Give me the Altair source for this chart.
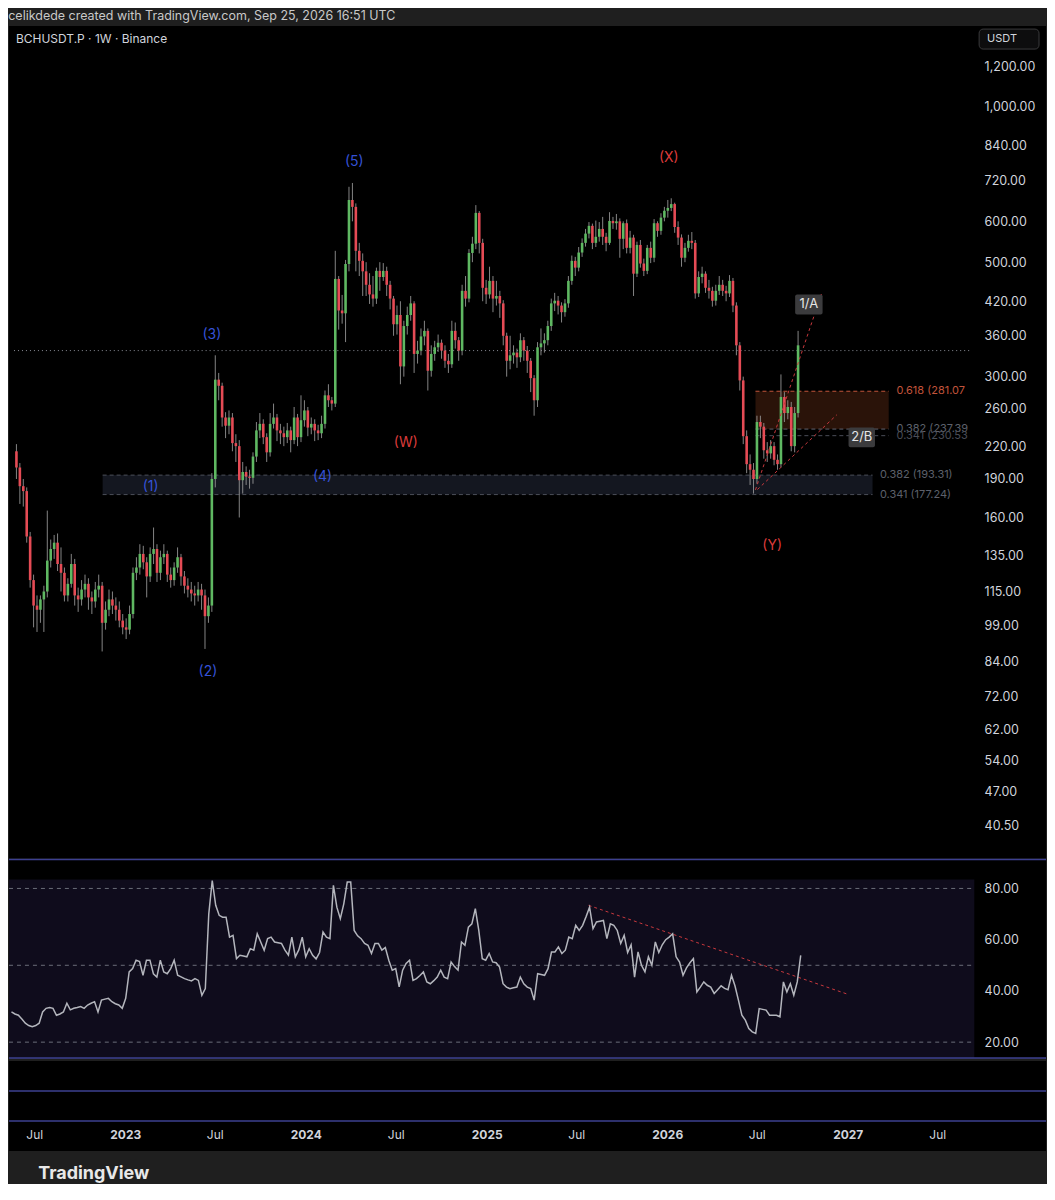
import altair as alt
import pandas as pd

# ---------------- data ----------------
first_open = 215
first_week = "2022-05-16"

closes = [
    200, 184, 180, 147, 121, 108, 106, 111, 115, 132,
    139, 143, 130, 125, 113, 119, 130, 113, 111, 116,
    119, 112, 110, 116, 118, 100, 106, 111, 108, 106,
    101, 98, 97, 104, 125, 128, 136, 131, 123, 136,
    139, 125, 134, 136, 124, 121, 128, 134, 123, 118,
    116, 114, 113, 116, 113, 103, 108, 190, 296, 288,
    250, 241, 250, 223, 220, 189, 196, 192, 191, 210,
    236, 243, 229, 214, 243, 250, 236, 233, 229, 236,
    226, 250, 229, 247, 258, 239, 243, 236, 233, 243,
    276, 270, 266, 464, 403, 398, 496, 660, 640, 526,
    503, 480, 452, 433, 425, 481, 468, 481, 452, 425,
    379, 395, 314, 376, 395, 416, 332, 337, 359, 368,
    308, 332, 342, 349, 337, 322, 317, 368, 353, 337,
    440, 425, 521, 543, 623, 545, 446, 433, 460, 425,
    430, 416, 360, 322, 330, 334, 327, 353, 337, 322,
    298, 270, 342, 348, 353, 376, 416, 421, 412, 400,
    416, 460, 503, 488, 522, 545, 568, 588, 545, 560,
    580, 560, 545, 601, 595, 600, 555, 595, 533, 558,
    475, 540, 497, 481, 533, 510, 595, 575, 610, 629,
    637, 648, 585, 558, 510, 533, 550, 545, 435, 468,
    475, 446, 440, 421, 440, 452, 440, 435, 460, 412,
    345, 295, 230, 203, 198, 190, 245, 240, 216, 213,
    220, 207, 203, 274, 255, 262, 220, 255, 345,
]
highs = [
    222, 204, 190, 183, 150, 124, 113, 113, 118, 165,
    145, 148, 149, 140, 128, 122, 136, 133, 117, 121,
    124, 122, 115, 120, 124, 120, 110, 116, 115, 112,
    110, 104, 102, 108, 128, 134, 142, 141, 134, 140,
    153, 142, 138, 142, 138, 128, 131, 140, 136, 126,
    122, 120, 118, 120, 119, 116, 112, 195, 330, 305,
    292, 256, 258, 255, 232, 226, 205, 201, 198, 214,
    245, 255, 248, 233, 255, 266, 254, 243, 240, 244,
    240, 262, 254, 276, 270, 262, 250, 248, 242, 252,
    282, 290, 274, 526, 470, 432, 505, 700, 712, 650,
    545, 520, 500, 476, 470, 488, 500, 498, 490, 460,
    430, 412, 420, 385, 410, 430, 420, 352, 372, 385,
    372, 345, 352, 362, 354, 345, 332, 385, 382, 358,
    452, 470, 530, 560, 645, 628, 555, 462, 490, 470,
    460, 440, 422, 365, 360, 345, 340, 364, 358, 344,
    326, 302, 350, 372, 364, 385, 425, 436, 430, 418,
    424, 470, 515, 512, 535, 556, 580, 598, 594, 602,
    598, 612, 570, 625, 612, 620, 608, 600, 605, 575,
    565, 548, 552, 508, 540, 548, 606, 600, 622, 640,
    660, 665, 652, 600, 566, 545, 565, 572, 552, 480,
    490, 480, 462, 448, 452, 470, 462, 450, 472, 466,
    418, 350, 300, 236, 212, 204, 252, 252, 244, 224,
    226, 224, 212, 303, 280, 270, 268, 262, 368,
]
lows = [
    190, 170, 168, 143, 117, 98, 96, 100, 96, 112,
    128, 133, 126, 115, 110, 110, 117, 108, 105, 108,
    112, 106, 104, 107, 112, 88, 97, 103, 104, 101,
    98, 95, 93, 95, 102, 121, 124, 127, 112, 120,
    130, 120, 121, 130, 120, 117, 118, 125, 118, 114,
    112, 110, 108, 110, 106, 89, 100, 105, 183, 270,
    240, 228, 232, 215, 205, 160, 178, 185, 182, 186,
    205, 228, 222, 205, 210, 238, 225, 222, 220, 223,
    214, 222, 220, 224, 240, 230, 232, 225, 226, 228,
    238, 262, 258, 262, 370, 380, 350, 480, 600, 480,
    470, 430, 430, 415, 410, 415, 440, 460, 430, 405,
    360, 362, 290, 300, 362, 385, 305, 318, 330, 345,
    282, 300, 322, 335, 325, 312, 305, 312, 340, 322,
    330, 410, 418, 500, 530, 520, 420, 415, 425, 400,
    412, 390, 345, 300, 310, 318, 312, 320, 322, 305,
    280, 252, 262, 330, 334, 345, 368, 402, 396, 382,
    392, 408, 452, 470, 480, 512, 536, 556, 530, 535,
    548, 540, 525, 540, 580, 578, 510, 530, 520, 520,
    430, 468, 488, 470, 474, 498, 500, 560, 565, 600,
    610, 628, 570, 540, 490, 500, 524, 530, 425, 428,
    455, 436, 425, 410, 412, 432, 430, 420, 428, 400,
    330, 282, 222, 195, 185, 178, 186, 228, 208, 205,
    208, 202, 198, 200, 245, 248, 215, 214, 250,
]
rsi = [
    31.8, 31, 30.5, 29, 27.4, 26.5, 26, 26.5, 27.4, 31.8,
    33.2, 33.5, 33.2, 30.5, 31, 31.8, 35.2, 32.6, 33.2, 33.5,
    33.9, 33.2, 34.5, 35.2, 35.8, 31.8, 36.4, 36.8, 37.1, 35.8,
    35, 34.5, 33.2, 37.1, 47.4, 48.7, 52, 51.5, 46.1, 52,
    52, 46.7, 45.4, 52, 47.4, 46.7, 48.7, 52, 46.1, 45.5,
    44.8, 44.3, 43.9, 44.8, 44.1, 38.3, 40.9, 70.1, 83.1, 73.4,
    69.5, 68.8, 68.8, 61, 61.7, 52.6, 53.9, 53.6, 53.3, 56.5,
    55.9, 62.3, 59.1, 55.9, 60.4, 61, 59.1, 58.8, 58.5, 55.9,
    54, 61, 53.3, 56, 61, 53.3, 56.5, 53.9, 52.5, 55,
    63, 61, 60.4, 81.2, 72.7, 68.2, 74, 82.5, 82.5, 63.6,
    61.5, 60.4, 58.5, 57.8, 54.6, 58.5, 58.5, 55.9, 56.9, 52,
    48.1, 48.7, 41.6, 48.1, 50.7, 52, 44.1, 44.8, 46, 47.4,
    43.5, 42.8, 44, 45.4, 48.1, 45.4, 44.8, 51.3, 49.5, 48.1,
    59.1, 57.8, 64.9, 66.2, 72.1, 63.6, 52.6, 52, 54.6, 51.3,
    51, 49.3, 42.8, 41.5, 40.9, 41.2, 41.5, 45.4, 42.8, 41.5,
    40.9, 36.4, 46.7, 46.4, 46.1, 48.7, 55.2, 55.2, 57.2, 54.6,
    55.9, 61, 60.4, 65.6, 63.6, 65.6, 69, 72.7, 64.3, 66.9,
    67.2, 67.5, 60.4, 66.2, 65.6, 63.6, 58.5, 61.7, 55, 58,
    45.4, 55.2, 50, 47.4, 53.3, 50, 59.1, 55, 58, 60,
    61, 62.3, 53.3, 51.3, 46.1, 49, 51, 52.6, 39.6, 41.5,
    43.5, 42.2, 41.5, 39, 40.5, 42, 41, 40.5, 46.1, 42,
    36.4, 30.5, 28.6, 25.3, 24, 23.4, 33.1, 32.8, 32.5, 30.5,
    30.5, 30.5, 29.9, 43.5, 39.6, 42.8, 38.3, 43.5, 53.9,
]
assert len(closes) == len(highs) == len(lows) == len(rsi)

price_ticks = [1200, 1000, 840, 720, 600, 500, 420, 360, 300, 260, 220,
               190, 160, 135, 115, 99, 84, 72, 62, 54, 47, 40.5]
rsi_ticks = [20, 40, 60, 80]
rsi_bands = [80, 50, 20]
last_price = 337

wave_text = ["(1)", "(2)", "(3)", "(4)", "(5)", "(W)", "(X)", "(Y)"]
wave_date = ["2023-02-14", "2023-06-11", "2023-06-19", "2024-01-31",
             "2024-04-05", "2024-07-19", "2026-01-07", "2026-08-06"]
wave_price = [183, 80.3, 362, 192, 782, 223, 796, 141]
wave_color = ["#3552d6"] * 5 + ["#dc3b3b"] * 3

tag_text = ["1/A", "2/B"]
tag_date = ["2026-10-20", "2027-02-05"]
tag_price = [414, 229]
tag_start = ["2026-09-22", "2027-01-09"]
tag_end = ["2026-11-17", "2027-03-04"]
tag_top = [433, 239.2]
tag_bottom = [396, 218.8]

fib_low_levels = [193.31, 177.24]
fib_low_text = ["0.382 (193.31)", "0.341 (177.24)"]
fib_low_start, fib_low_end, fib_low_label_date = "2022-11-08", "2027-02-27", "2027-03-14"

fib_up_levels = [281.07, 237.39, 230.53]
fib_up_text = ["0.618 (281.07", "0.382 (237.39", "0.341 (230.53"]
fib_up_color = ["#c2543b", "#5d606b", "#4a4d57"]
fib_up_start, fib_up_end, fib_up_label_date = "2026-07-03", "2027-04-01", "2027-04-17"

chan_start = ["2026-07-03", "2026-07-07"]
chan_end = ["2026-11-15", "2026-12-16"]
chan_p1 = [181, 181.3]
chan_p2 = [435, 253]

rsi_trend_start, rsi_trend_end = "2025-07-26", "2027-01-01"
rsi_trend_v1, rsi_trend_v2 = 73.4, 38.7

x_start, x_end, plot_end = "2022-05-11", "2028-02-06", "2027-09-14"
price_lo, price_hi = 34.93, 1434
rsi_lo, rsi_hi = 13.77, 91.3

time_ticks = ["2022-07-01", "2023-01-01", "2023-07-01", "2024-01-01", "2024-07-01",
              "2025-01-01", "2025-07-01", "2026-01-01", "2026-07-01", "2027-01-01", "2027-07-01"]

# ---------------- styling ----------------
FONT = "Inter"
GREEN, RED, WICK = "#5fb862", "#e54b55", "#9c9c9c"
SEP = "#3d4090"
TXT = "#d1d4dc"
W = 1039


def ts(d):
    return d + "T00:00:00"


def dt(d):
    y, m, dd = d.split("-")
    return alt.DateTime(year=int(y), month=int(m), date=int(dd))


xscale = alt.Scale(domain=[dt(x_start), dt(x_end)])
price_scale = alt.Scale(type="log", domain=[price_lo, price_hi], nice=False, zero=False)
price_axis = alt.Axis(orient="right", values=price_ticks, format=",.2f", offset=-72,
                      labelPadding=10, domain=False, ticks=False, grid=False, title=None,
                      labelColor=TXT, labelFontSize=12.5, labelFont=FONT,
                      labelFlush=False, labelOverlap=False)
rsi_scale = alt.Scale(domain=[rsi_lo, rsi_hi], nice=False, zero=False)
rsi_axis = alt.Axis(orient="right", values=rsi_ticks, format=".2f", offset=-72,
                    labelPadding=10, domain=False, ticks=False, grid=False, title=None,
                    labelColor=TXT, labelFontSize=12.5, labelFont=FONT,
                    labelFlush=False, labelOverlap=False)


def X(f):
    return alt.X(f, type="temporal", scale=xscale, axis=None)


def YP(f):
    return alt.Y(f, type="quantitative", scale=price_scale, axis=price_axis)


def YR(f):
    return alt.Y(f, type="quantitative", scale=rsi_scale, axis=rsi_axis)


dates = [d.strftime("%Y-%m-%dT00:00:00") for d in pd.date_range(first_week, periods=len(closes), freq="7D")]
opens = [first_open] + closes[:-1]
candles = pd.DataFrame({"date": dates, "open": opens, "high": highs, "low": lows, "close": closes})
candles["c"] = [GREEN if c >= o else RED for o, c in zip(opens, closes)]

# ---------------- price pane ----------------
low_band = alt.Chart(pd.DataFrame({"s": [ts(fib_low_start)], "e": [ts(fib_low_end)],
                                   "a": [fib_low_levels[0]], "b": [fib_low_levels[1]]})
                     ).mark_rect(color="#161a24", opacity=0.9).encode(x=X("s"), x2="e", y=YP("a"), y2="b")
low_lines = alt.Chart(pd.DataFrame({"s": ts(fib_low_start), "e": ts(fib_low_end), "lvl": fib_low_levels})
                      ).mark_rule(color="#4b4e58", strokeDash=[4, 3], strokeWidth=1).encode(
    x=X("s"), x2="e", y=YP("lvl"))
low_labels = alt.Chart(pd.DataFrame({"d": ts(fib_low_label_date), "lvl": fib_low_levels, "t": fib_low_text})
                       ).mark_text(align="left", baseline="middle", fontSize=11, color="#5d606b", font=FONT
                                   ).encode(x=X("d"), y=YP("lvl"), text="t:N")

up_box = alt.Chart(pd.DataFrame({"s": [ts(fib_up_start)], "e": [ts(fib_up_end)],
                                 "a": [fib_up_levels[0]], "b": [fib_up_levels[1]]})
                   ).mark_rect(color="#2c1409", opacity=0.95).encode(x=X("s"), x2="e", y=YP("a"), y2="b")
up_lines = alt.Chart(pd.DataFrame({"s": ts(fib_up_start), "e": ts(fib_up_end), "lvl": fib_up_levels,
                                   "c": fib_up_color})
                     ).mark_rule(strokeDash=[4, 3], strokeWidth=1).encode(
    x=X("s"), x2="e", y=YP("lvl"), color=alt.Color("c:N", scale=None))
up_labels = alt.Chart(pd.DataFrame({"d": ts(fib_up_label_date), "lvl": fib_up_levels, "t": fib_up_text,
                                    "c": fib_up_color})
                      ).mark_text(align="left", baseline="middle", fontSize=11, font=FONT).encode(
    x=X("d"), y=YP("lvl"), text="t:N", color=alt.Color("c:N", scale=None))

price_line = alt.Chart(pd.DataFrame({"s": [ts(x_start)], "e": [ts(plot_end)], "p": [last_price]})
                       ).mark_rule(color="#8a8d96", strokeDash=[1, 3], strokeWidth=1).encode(
    x=X("s"), x2="e", y=YP("p"))

wicks = alt.Chart(candles).mark_rule(color=WICK, strokeWidth=1, opacity=0.85).encode(
    x=X("date"), y=YP("low"), y2="high")
bodies = alt.Chart(candles).mark_bar(size=2.6).encode(
    x=X("date"), y=YP("open"), y2="close", color=alt.Color("c:N", scale=None))

channels = alt.Chart(pd.DataFrame({"s": [ts(d) for d in chan_start], "e": [ts(d) for d in chan_end],
                                   "p1": chan_p1, "p2": chan_p2})
                     ).mark_rule(color="#c8383d", strokeDash=[3, 3], strokeWidth=1).encode(
    x=X("s"), x2="e", y=YP("p1"), y2="p2")

waves = alt.Chart(pd.DataFrame({"d": [ts(d) for d in wave_date], "p": wave_price, "t": wave_text,
                                "c": wave_color})
                  ).mark_text(fontSize=14, font=FONT, baseline="middle").encode(
    x=X("d"), y=YP("p"), text="t:N", color=alt.Color("c:N", scale=None))

tag_boxes = alt.Chart(pd.DataFrame({"s": [ts(d) for d in tag_start], "e": [ts(d) for d in tag_end],
                                    "a": tag_top, "b": tag_bottom})
                      ).mark_rect(color="#3b3b3d", cornerRadius=2).encode(x=X("s"), x2="e", y=YP("a"), y2="b")
tag_labels = alt.Chart(pd.DataFrame({"d": [ts(d) for d in tag_date], "p": tag_price, "t": tag_text})
                       ).mark_text(fontSize=13, font=FONT, color="#e6e6e6", baseline="middle").encode(
    x=X("d"), y=YP("p"), text="t:N")

header = alt.Chart(pd.DataFrame({"t": ["BCHUSDT.P · 1W · Binance"]})).mark_text(
    align="left", baseline="middle", fontSize=12, font=FONT, color=TXT).encode(
    x=alt.value(7), y=alt.value(13), text="t:N")
unit_box = alt.Chart(pd.DataFrame({"t": ["USDT"]})).mark_rect(
    fill="#0d0d0e", stroke="#3a3a3c", strokeWidth=1, cornerRadius=4).encode(
    x=alt.value(972), x2=alt.value(1032), y=alt.value(3), y2=alt.value(23))
unit_text = alt.Chart(pd.DataFrame({"t": ["USDT"]})).mark_text(
    align="left", baseline="middle", fontSize=11, font=FONT, color=TXT).encode(
    x=alt.value(980), y=alt.value(13), text="t:N")

price_pane = alt.layer(
    low_band, low_lines, up_box, up_lines, price_line, wicks, bodies, channels,
    low_labels, up_labels, waves, tag_boxes, tag_labels, header, unit_box, unit_text
).properties(width=W, height=834)

# ---------------- RSI pane ----------------
rsi_df = pd.DataFrame({"date": dates, "rsi": rsi})
rsi_fill = alt.Chart(pd.DataFrame({"s": [ts(x_start)], "e": [ts(plot_end)], "a": [83.5], "b": [rsi_lo]})
                     ).mark_rect(color="#0f0c1c").encode(x=X("s"), x2="e", y=YR("a"), y2="b")
rsi_band_lines = alt.Chart(pd.DataFrame({"s": ts(x_start), "e": ts(plot_end), "v": rsi_bands})
                           ).mark_rule(color="#6a6d78", strokeDash=[4, 4], strokeWidth=1).encode(
    x=X("s"), x2="e", y=YR("v"))
rsi_line = alt.Chart(rsi_df).mark_line(color="#b4b6bd", strokeWidth=1.5).encode(x=X("date"), y=YR("rsi"))
rsi_trend = alt.Chart(pd.DataFrame({"s": [ts(rsi_trend_start)], "e": [ts(rsi_trend_end)],
                                    "a": [rsi_trend_v1], "b": [rsi_trend_v2]})
                      ).mark_rule(color="#c8383d", strokeDash=[3, 3], strokeWidth=1).encode(
    x=X("s"), x2="e", y=YR("a"), y2="b")
rsi_seps = alt.Chart(pd.DataFrame({"v": [rsi_hi, rsi_lo]})).mark_rule(color=SEP, strokeWidth=1.5).encode(
    y=YR("v"))
rsi_pane = alt.layer(rsi_fill, rsi_band_lines, rsi_trend, rsi_line, rsi_seps).properties(width=W, height=199)

# ---------------- bottom (empty panes + time axis) ----------------
time_axis = alt.Axis(
    orient="bottom", values=[dt(d) for d in time_ticks],
    labelExpr="month(datum.value) == 0 ? timeFormat(datum.value, '%Y') : timeFormat(datum.value, '%b')",
    labelFontWeight={"condition": {"test": "month(datum.value) == 0", "value": "bold"}, "value": "normal"},
    offset=-30, labelPadding=9, domain=False, ticks=False, grid=False, title=None,
    labelColor=TXT, labelFontSize=12, labelFont=FONT, labelFlush=False, labelOverlap=False)
pane_levels = [2, 1]
empty_seps = alt.Chart(pd.DataFrame({"v": pane_levels})).mark_rule(color=SEP, strokeWidth=1.5).encode(
    y=alt.Y("v:Q", scale=alt.Scale(domain=[0, 3], nice=False), axis=None))
axis_carrier = alt.Chart(pd.DataFrame({"d": [ts(d) for d in time_ticks]})).mark_point(opacity=0).encode(
    x=alt.X("d:T", scale=xscale, axis=time_axis), y=alt.value(1))
bottom_pane = alt.layer(empty_seps, axis_carrier).properties(
    width=W, height=90,
    title=alt.TitleParams("TradingView", orient="bottom", anchor="start", fontSize=18, fontWeight="bold",
                          color="#e8e8e8", font=FONT, offset=14, dx=30))

chart = alt.vconcat(price_pane, rsi_pane, bottom_pane, spacing=0).properties(
    title=alt.TitleParams("celikdede created with TradingView.com, Sep 25, 2026 16:51 UTC",
                          anchor="start", fontSize=12.5, fontWeight="normal", color="#c9c9c9",
                          font=FONT, offset=4),
    padding=0, background="#1f1f1f",
).configure_view(fill="#000000", stroke=None).configure_concat(spacing=0)

chart.save("out.html", embed_options={"renderer": "svg", "actions": False})
